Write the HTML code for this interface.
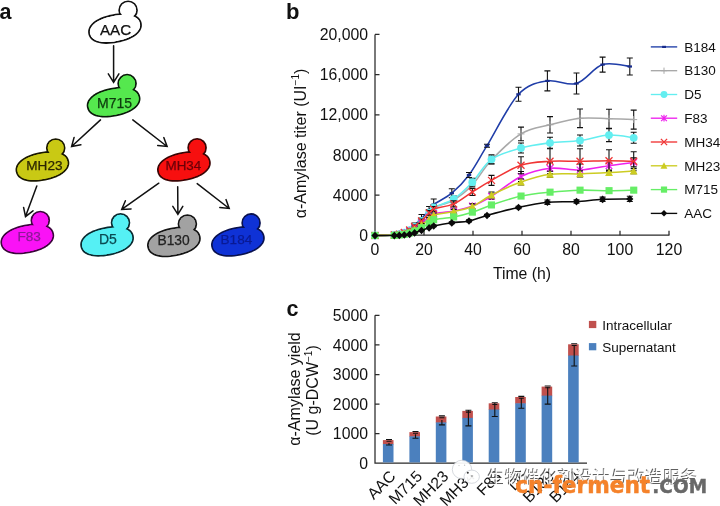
<!DOCTYPE html>
<html lang="en">
<head>
<meta charset="utf-8">
<title>Figure: yeast strain lineage and α-amylase production</title>
<style>
html,body{margin:0;padding:0;background:#fff;}
body{width:720px;height:506px;overflow:hidden;}
svg{display:block;}
svg text{font-family:"Liberation Sans", Arial, Helvetica, sans-serif;}
svg text.wm-cjk{font-family:"Liberation Sans","Noto Sans CJK SC","WenQuanYi Zen Hei",sans-serif;}
svg text.wm-logo{font-family:"DejaVu Sans","Liberation Sans",sans-serif;}
</style>
</head>
<body>
<svg width="720" height="506" viewBox="0 0 720 506">
<rect width="720" height="506" fill="#ffffff"/>
<g id="panel-a">
<text x="-0.5" y="19" font-size="21.5" font-weight="bold" fill="#111">a</text>
<g stroke="#111" stroke-width="1.8" fill="#ffffff" stroke-linejoin="round">
<circle cx="128.1" cy="10.2" r="8.9"/>
<path d="M140.8 23.3L141.0 25.0L140.9 26.5L140.5 28.0L139.9 29.5L139.0 30.9L137.9 32.3L136.5 33.7L134.9 35.0L133.1 36.2L131.1 37.3L128.9 38.4L126.4 39.3L123.8 40.2L121.0 41.0L117.7 41.7L114.4 42.3L111.5 42.7L108.7 42.9L106.1 43.0L103.6 42.9L101.3 42.6L99.2 42.2L97.2 41.7L95.4 41.0L93.8 40.1L92.4 39.2L91.3 38.1L90.4 36.8L89.7 35.4L89.2 33.7L89.0 32.0L89.1 30.5L89.5 29.0L90.1 27.5L91.0 26.1L92.1 24.7L93.5 23.3L95.1 22.0L96.9 20.8L98.9 19.7L101.1 18.6L103.6 17.7L106.2 16.8L109.0 16.0L112.3 15.3L115.6 14.7L118.5 14.3L121.3 14.1L123.9 14.0L126.4 14.1L128.7 14.4L130.8 14.8L132.8 15.3L134.6 16.0L136.2 16.9L137.6 17.8L138.7 18.9L139.6 20.2L140.3 21.6Z"/>
<circle cx="128.1" cy="10.2" r="8.0" stroke="none"/>
<path d="M139.9 23.4L140.1 25.0L140.0 26.5L139.6 27.9L139.0 29.3L138.2 30.6L137.1 31.9L135.7 33.2L134.2 34.4L132.4 35.6L130.5 36.6L128.3 37.6L126.0 38.6L123.4 39.4L120.7 40.1L117.5 40.8L114.3 41.4L111.5 41.8L108.8 42.0L106.3 42.1L103.9 42.0L101.7 41.8L99.6 41.4L97.7 40.9L96.0 40.3L94.5 39.5L93.2 38.6L92.1 37.6L91.2 36.4L90.6 35.1L90.1 33.6L89.9 32.0L90.0 30.5L90.4 29.1L91.0 27.7L91.8 26.4L92.9 25.1L94.3 23.8L95.8 22.6L97.6 21.4L99.5 20.4L101.7 19.4L104.0 18.4L106.6 17.6L109.3 16.9L112.5 16.2L115.7 15.6L118.5 15.2L121.2 15.0L123.7 14.9L126.1 15.0L128.3 15.2L130.4 15.6L132.3 16.1L134.0 16.7L135.5 17.5L136.8 18.4L137.9 19.4L138.8 20.6L139.4 21.9Z" stroke="none"/>
</g>
<text x="115.6" y="34.9" font-size="15.2" text-anchor="middle" fill="#111" stroke="#111" stroke-width="0.25">AAC</text>
<g stroke="#0a1a0a" stroke-width="1.8" fill="#55e84e" stroke-linejoin="round">
<circle cx="127.1" cy="83.6" r="8.9"/>
<path d="M139.4 96.9L139.6 98.6L139.5 100.1L139.1 101.6L138.5 103.1L137.6 104.5L136.5 105.9L135.1 107.3L133.5 108.6L131.7 109.8L129.7 110.9L127.5 112.0L125.0 112.9L122.4 113.8L119.6 114.6L116.3 115.3L113.0 115.9L110.1 116.3L107.3 116.5L104.7 116.6L102.2 116.5L99.9 116.2L97.8 115.8L95.8 115.3L94.0 114.6L92.4 113.7L91.0 112.8L89.9 111.7L89.0 110.4L88.3 109.0L87.8 107.3L87.6 105.6L87.7 104.1L88.1 102.6L88.7 101.1L89.6 99.7L90.7 98.3L92.1 96.9L93.7 95.6L95.5 94.4L97.5 93.3L99.7 92.2L102.2 91.3L104.8 90.4L107.6 89.6L110.9 88.9L114.2 88.3L117.1 87.9L119.9 87.7L122.5 87.6L125.0 87.7L127.3 88.0L129.4 88.4L131.4 88.9L133.2 89.6L134.8 90.5L136.2 91.4L137.3 92.5L138.2 93.8L138.9 95.2Z"/>
<circle cx="127.1" cy="83.6" r="8.0" stroke="none"/>
<path d="M138.5 97.0L138.7 98.6L138.6 100.1L138.2 101.5L137.6 102.9L136.8 104.2L135.7 105.5L134.3 106.8L132.8 108.0L131.0 109.2L129.1 110.2L126.9 111.2L124.6 112.2L122.0 113.0L119.3 113.7L116.1 114.4L112.9 115.0L110.1 115.4L107.4 115.6L104.9 115.7L102.5 115.6L100.3 115.4L98.2 115.0L96.3 114.5L94.6 113.9L93.1 113.1L91.8 112.2L90.7 111.2L89.8 110.0L89.2 108.7L88.7 107.2L88.5 105.6L88.6 104.1L89.0 102.7L89.6 101.3L90.4 100.0L91.5 98.7L92.9 97.4L94.4 96.2L96.2 95.0L98.1 94.0L100.3 93.0L102.6 92.0L105.2 91.2L107.9 90.5L111.1 89.8L114.3 89.2L117.1 88.8L119.8 88.6L122.3 88.5L124.7 88.6L126.9 88.8L129.0 89.2L130.9 89.7L132.6 90.3L134.1 91.1L135.4 92.0L136.5 93.0L137.4 94.2L138.0 95.5Z" stroke="none"/>
</g>
<text x="114.6" y="107.5" font-size="14" text-anchor="middle" fill="#0d3a0d" stroke="#0d3a0d" stroke-width="0.25">M715</text>
<g stroke="#1a1800" stroke-width="1.8" fill="#c9c914" stroke-linejoin="round">
<circle cx="55.7" cy="148" r="8.9"/>
<path d="M68.2 161.2L68.4 162.9L68.3 164.4L67.9 165.9L67.3 167.4L66.4 168.8L65.3 170.2L63.9 171.6L62.3 172.9L60.5 174.1L58.5 175.2L56.3 176.3L53.8 177.2L51.2 178.1L48.4 178.9L45.1 179.6L41.8 180.2L38.9 180.6L36.1 180.8L33.5 180.9L31.0 180.8L28.7 180.5L26.6 180.1L24.6 179.6L22.8 178.9L21.2 178.0L19.8 177.1L18.7 176.0L17.8 174.7L17.1 173.3L16.6 171.6L16.4 169.9L16.5 168.4L16.9 166.9L17.5 165.4L18.4 164.0L19.5 162.6L20.9 161.2L22.5 159.9L24.3 158.7L26.3 157.6L28.5 156.5L31.0 155.6L33.6 154.7L36.4 153.9L39.7 153.2L43.0 152.6L45.9 152.2L48.7 152.0L51.3 151.9L53.8 152.0L56.1 152.3L58.2 152.7L60.2 153.2L62.0 153.9L63.6 154.8L65.0 155.7L66.1 156.8L67.0 158.1L67.7 159.5Z"/>
<circle cx="55.7" cy="148" r="8.0" stroke="none"/>
<path d="M67.3 161.3L67.5 162.9L67.4 164.4L67.0 165.8L66.4 167.2L65.6 168.5L64.5 169.8L63.1 171.1L61.6 172.3L59.8 173.5L57.9 174.5L55.7 175.5L53.4 176.5L50.8 177.3L48.1 178.0L44.9 178.7L41.7 179.3L38.9 179.7L36.2 179.9L33.7 180.0L31.3 179.9L29.1 179.7L27.0 179.3L25.1 178.8L23.4 178.2L21.9 177.4L20.6 176.5L19.5 175.5L18.6 174.3L18.0 173.0L17.5 171.5L17.3 169.9L17.4 168.4L17.8 167.0L18.4 165.6L19.2 164.3L20.3 163.0L21.7 161.7L23.2 160.5L25.0 159.3L26.9 158.3L29.1 157.3L31.4 156.3L34.0 155.5L36.7 154.8L39.9 154.1L43.1 153.5L45.9 153.1L48.6 152.9L51.1 152.8L53.5 152.9L55.7 153.1L57.8 153.5L59.7 154.0L61.4 154.6L62.9 155.4L64.2 156.3L65.3 157.3L66.2 158.5L66.8 159.8Z" stroke="none"/>
</g>
<text x="44.4" y="170.0" font-size="13.6" text-anchor="middle" fill="#2b2600" stroke="#2b2600" stroke-width="0.25">MH23</text>
<g stroke="#3a0505" stroke-width="1.8" fill="#f70f0f" stroke-linejoin="round">
<circle cx="197.1" cy="147.8" r="8.9"/>
<path d="M209.7 161.2L209.9 162.9L209.8 164.4L209.4 165.9L208.8 167.4L207.9 168.8L206.8 170.2L205.4 171.6L203.8 172.9L202.0 174.1L200.0 175.2L197.8 176.3L195.3 177.2L192.7 178.1L189.9 178.9L186.6 179.6L183.3 180.2L180.4 180.6L177.6 180.8L175.0 180.9L172.5 180.8L170.2 180.5L168.1 180.1L166.1 179.6L164.3 178.9L162.7 178.0L161.3 177.1L160.2 176.0L159.3 174.7L158.6 173.3L158.1 171.6L157.9 169.9L158.0 168.4L158.4 166.9L159.0 165.4L159.9 164.0L161.0 162.6L162.4 161.2L164.0 159.9L165.8 158.7L167.8 157.6L170.0 156.5L172.5 155.6L175.1 154.7L177.9 153.9L181.2 153.2L184.5 152.6L187.4 152.2L190.2 152.0L192.8 151.9L195.3 152.0L197.6 152.3L199.7 152.7L201.7 153.2L203.5 153.9L205.1 154.8L206.5 155.7L207.6 156.8L208.5 158.1L209.2 159.5Z"/>
<circle cx="197.1" cy="147.8" r="8.0" stroke="none"/>
<path d="M208.8 161.3L209.0 162.9L208.9 164.4L208.5 165.8L207.9 167.2L207.1 168.5L206.0 169.8L204.6 171.1L203.1 172.3L201.3 173.5L199.4 174.5L197.2 175.5L194.9 176.5L192.3 177.3L189.6 178.0L186.4 178.7L183.2 179.3L180.4 179.7L177.7 179.9L175.2 180.0L172.8 179.9L170.6 179.7L168.5 179.3L166.6 178.8L164.9 178.2L163.4 177.4L162.1 176.5L161.0 175.5L160.1 174.3L159.5 173.0L159.0 171.5L158.8 169.9L158.9 168.4L159.3 167.0L159.9 165.6L160.7 164.3L161.8 163.0L163.2 161.7L164.7 160.5L166.5 159.3L168.4 158.3L170.6 157.3L172.9 156.3L175.5 155.5L178.2 154.8L181.4 154.1L184.6 153.5L187.4 153.1L190.1 152.9L192.6 152.8L195.0 152.9L197.2 153.1L199.3 153.5L201.2 154.0L202.9 154.6L204.4 155.4L205.7 156.3L206.8 157.3L207.7 158.5L208.3 159.8Z" stroke="none"/>
</g>
<text x="183.4" y="169.9" font-size="13.4" text-anchor="middle" fill="#6a0008" stroke="#6a0008" stroke-width="0.25">MH34</text>
<g stroke="#3c063c" stroke-width="1.8" fill="#fa12f6" stroke-linejoin="round">
<circle cx="40.3" cy="220.5" r="8.9"/>
<path d="M53.1 233.7L53.3 235.4L53.2 236.9L52.8 238.4L52.2 239.9L51.3 241.3L50.2 242.7L48.8 244.1L47.2 245.4L45.4 246.6L43.4 247.7L41.2 248.8L38.7 249.7L36.1 250.6L33.3 251.4L30.0 252.1L26.7 252.7L23.8 253.1L21.0 253.3L18.4 253.4L15.9 253.3L13.6 253.0L11.5 252.6L9.5 252.1L7.7 251.4L6.1 250.5L4.7 249.6L3.6 248.5L2.7 247.2L2.0 245.8L1.5 244.1L1.3 242.4L1.4 240.9L1.8 239.4L2.4 237.9L3.3 236.5L4.4 235.1L5.8 233.7L7.4 232.4L9.2 231.2L11.2 230.1L13.4 229.0L15.9 228.1L18.5 227.2L21.3 226.4L24.6 225.7L27.9 225.1L30.8 224.7L33.6 224.5L36.2 224.4L38.7 224.5L41.0 224.8L43.1 225.2L45.1 225.7L46.9 226.4L48.5 227.3L49.9 228.2L51.0 229.3L51.9 230.6L52.6 232.0Z"/>
<circle cx="40.3" cy="220.5" r="8.0" stroke="none"/>
<path d="M52.2 233.8L52.4 235.4L52.3 236.9L51.9 238.3L51.3 239.7L50.5 241.0L49.4 242.3L48.0 243.6L46.5 244.8L44.7 246.0L42.8 247.0L40.6 248.0L38.3 249.0L35.7 249.8L33.0 250.5L29.8 251.2L26.6 251.8L23.8 252.2L21.1 252.4L18.6 252.5L16.2 252.4L14.0 252.2L11.9 251.8L10.0 251.3L8.3 250.7L6.8 249.9L5.5 249.0L4.4 248.0L3.5 246.8L2.9 245.5L2.4 244.0L2.2 242.4L2.3 240.9L2.7 239.5L3.3 238.1L4.1 236.8L5.2 235.5L6.6 234.2L8.1 233.0L9.9 231.8L11.8 230.8L14.0 229.8L16.3 228.8L18.9 228.0L21.6 227.3L24.8 226.6L28.0 226.0L30.8 225.6L33.5 225.4L36.0 225.3L38.4 225.4L40.6 225.6L42.7 226.0L44.6 226.5L46.3 227.1L47.8 227.9L49.1 228.8L50.2 229.8L51.1 231.0L51.7 232.3Z" stroke="none"/>
</g>
<text x="29.2" y="241.1" font-size="13.6" text-anchor="middle" fill="#8a1a96" stroke="#8a1a96" stroke-width="0.25">F83</text>
<g stroke="#0a2a30" stroke-width="1.8" fill="#55f0f4" stroke-linejoin="round">
<circle cx="120.5" cy="222.8" r="8.9"/>
<path d="M132.9 236.1L133.1 237.8L133.0 239.3L132.6 240.8L132.0 242.3L131.1 243.7L130.0 245.1L128.6 246.5L127.0 247.8L125.2 249.0L123.2 250.1L121.0 251.2L118.5 252.1L115.9 253.0L113.1 253.8L109.8 254.5L106.5 255.1L103.6 255.5L100.8 255.7L98.2 255.8L95.7 255.7L93.4 255.4L91.3 255.0L89.3 254.5L87.5 253.8L85.9 252.9L84.5 252.0L83.4 250.9L82.5 249.6L81.8 248.2L81.3 246.5L81.1 244.8L81.2 243.3L81.6 241.8L82.2 240.3L83.1 238.9L84.2 237.5L85.6 236.1L87.2 234.8L89.0 233.6L91.0 232.5L93.2 231.4L95.7 230.5L98.3 229.6L101.1 228.8L104.4 228.1L107.7 227.5L110.6 227.1L113.4 226.9L116.0 226.8L118.5 226.9L120.8 227.2L122.9 227.6L124.9 228.1L126.7 228.8L128.3 229.7L129.7 230.6L130.8 231.7L131.7 233.0L132.4 234.4Z"/>
<circle cx="120.5" cy="222.8" r="8.0" stroke="none"/>
<path d="M132.0 236.2L132.2 237.8L132.1 239.3L131.7 240.7L131.1 242.1L130.3 243.4L129.2 244.7L127.8 246.0L126.3 247.2L124.5 248.4L122.6 249.4L120.4 250.4L118.1 251.4L115.5 252.2L112.8 252.9L109.6 253.6L106.4 254.2L103.6 254.6L100.9 254.8L98.4 254.9L96.0 254.8L93.8 254.6L91.7 254.2L89.8 253.7L88.1 253.1L86.6 252.3L85.3 251.4L84.2 250.4L83.3 249.2L82.7 247.9L82.2 246.4L82.0 244.8L82.1 243.3L82.5 241.9L83.1 240.5L83.9 239.2L85.0 237.9L86.4 236.6L87.9 235.4L89.7 234.2L91.6 233.2L93.8 232.2L96.1 231.2L98.7 230.4L101.4 229.7L104.6 229.0L107.8 228.4L110.6 228.0L113.3 227.8L115.8 227.7L118.2 227.8L120.4 228.0L122.5 228.4L124.4 228.9L126.1 229.5L127.6 230.3L128.9 231.2L130.0 232.2L130.9 233.4L131.5 234.7Z" stroke="none"/>
</g>
<text x="107.9" y="243.6" font-size="14" text-anchor="middle" fill="#0a4a52" stroke="#0a4a52" stroke-width="0.25">D5</text>
<g stroke="#141414" stroke-width="1.8" fill="#a2a2a2" stroke-linejoin="round">
<circle cx="187.4" cy="224" r="8.9"/>
<path d="M199.7 236.7L199.9 238.4L199.8 239.9L199.4 241.4L198.8 242.9L197.9 244.3L196.8 245.7L195.4 247.1L193.8 248.4L192.0 249.6L190.0 250.7L187.8 251.8L185.3 252.7L182.7 253.6L179.9 254.4L176.6 255.1L173.3 255.7L170.4 256.1L167.6 256.3L165.0 256.4L162.5 256.3L160.2 256.0L158.1 255.6L156.1 255.1L154.3 254.4L152.7 253.5L151.3 252.6L150.2 251.5L149.3 250.2L148.6 248.8L148.1 247.1L147.9 245.4L148.0 243.9L148.4 242.4L149.0 240.9L149.9 239.5L151.0 238.1L152.4 236.7L154.0 235.4L155.8 234.2L157.8 233.1L160.0 232.0L162.5 231.1L165.1 230.2L167.9 229.4L171.2 228.7L174.5 228.1L177.4 227.7L180.2 227.5L182.8 227.4L185.3 227.5L187.6 227.8L189.7 228.2L191.7 228.7L193.5 229.4L195.1 230.3L196.5 231.2L197.6 232.3L198.5 233.6L199.2 235.0Z"/>
<circle cx="187.4" cy="224" r="8.0" stroke="none"/>
<path d="M198.8 236.8L199.0 238.4L198.9 239.9L198.5 241.3L197.9 242.7L197.1 244.0L196.0 245.3L194.6 246.6L193.1 247.8L191.3 249.0L189.4 250.0L187.2 251.0L184.9 252.0L182.3 252.8L179.6 253.5L176.4 254.2L173.2 254.8L170.4 255.2L167.7 255.4L165.2 255.5L162.8 255.4L160.6 255.2L158.5 254.8L156.6 254.3L154.9 253.7L153.4 252.9L152.1 252.0L151.0 251.0L150.1 249.8L149.5 248.5L149.0 247.0L148.8 245.4L148.9 243.9L149.3 242.5L149.9 241.1L150.7 239.8L151.8 238.5L153.2 237.2L154.7 236.0L156.5 234.8L158.4 233.8L160.6 232.8L162.9 231.8L165.5 231.0L168.2 230.3L171.4 229.6L174.6 229.0L177.4 228.6L180.1 228.4L182.6 228.3L185.0 228.4L187.2 228.6L189.3 229.0L191.2 229.5L192.9 230.1L194.4 230.9L195.7 231.8L196.8 232.8L197.7 234.0L198.3 235.3Z" stroke="none"/>
</g>
<text x="173.6" y="245.0" font-size="13.8" text-anchor="middle" fill="#222" stroke="#222" stroke-width="0.25">B130</text>
<g stroke="#0a1250" stroke-width="1.8" fill="#0f32d6" stroke-linejoin="round">
<circle cx="251.1" cy="222.9" r="8.9"/>
<path d="M263.7 236.2L263.9 237.9L263.8 239.4L263.4 240.9L262.8 242.4L261.9 243.8L260.8 245.2L259.4 246.6L257.8 247.9L256.0 249.1L254.0 250.2L251.8 251.3L249.3 252.2L246.7 253.1L243.9 253.9L240.6 254.6L237.3 255.2L234.4 255.6L231.6 255.8L229.0 255.9L226.5 255.8L224.2 255.5L222.1 255.1L220.1 254.6L218.3 253.9L216.7 253.0L215.3 252.1L214.2 251.0L213.3 249.7L212.6 248.3L212.1 246.6L211.9 244.9L212.0 243.4L212.4 241.9L213.0 240.4L213.9 239.0L215.0 237.6L216.4 236.2L218.0 234.9L219.8 233.7L221.8 232.6L224.0 231.5L226.5 230.6L229.1 229.7L231.9 228.9L235.2 228.2L238.5 227.6L241.4 227.2L244.2 227.0L246.8 226.9L249.3 227.0L251.6 227.3L253.7 227.7L255.7 228.2L257.5 228.9L259.1 229.8L260.5 230.7L261.6 231.8L262.5 233.1L263.2 234.5Z"/>
<circle cx="251.1" cy="222.9" r="8.0" stroke="none"/>
<path d="M262.8 236.3L263.0 237.9L262.9 239.4L262.5 240.8L261.9 242.2L261.1 243.5L260.0 244.8L258.6 246.1L257.1 247.3L255.3 248.5L253.4 249.5L251.2 250.5L248.9 251.5L246.3 252.3L243.6 253.0L240.4 253.7L237.2 254.3L234.4 254.7L231.7 254.9L229.2 255.0L226.8 254.9L224.6 254.7L222.5 254.3L220.6 253.8L218.9 253.2L217.4 252.4L216.1 251.5L215.0 250.5L214.1 249.3L213.5 248.0L213.0 246.5L212.8 244.9L212.9 243.4L213.3 242.0L213.9 240.6L214.7 239.3L215.8 238.0L217.2 236.7L218.7 235.5L220.5 234.3L222.4 233.3L224.6 232.3L226.9 231.3L229.5 230.5L232.2 229.8L235.4 229.1L238.6 228.5L241.4 228.1L244.1 227.9L246.6 227.8L249.0 227.9L251.2 228.1L253.3 228.5L255.2 229.0L256.9 229.6L258.4 230.4L259.7 231.3L260.8 232.3L261.7 233.5L262.3 234.8Z" stroke="none"/>
</g>
<text x="236.4" y="244.1" font-size="13.6" text-anchor="middle" fill="#0a1a94" stroke="#0a1a94" stroke-width="0.25">B184</text>
<path d="M113.6 45.7L113.6 82.3M108.3 73.9L113.6 82.3L118.9 73.9" fill="none" stroke="#111" stroke-width="1.5" stroke-linecap="round" stroke-linejoin="miter"/>
<path d="M100.5 119.9L71.6 146.5M74.1 137.4L71.6 146.5L80.9 144.8" fill="none" stroke="#111" stroke-width="1.5" stroke-linecap="round" stroke-linejoin="miter"/>
<path d="M132.8 119.9L167.1 146.5M157.7 145.5L167.1 146.5L163.8 137.6" fill="none" stroke="#111" stroke-width="1.5" stroke-linecap="round" stroke-linejoin="miter"/>
<path d="M36.8 185.9L25.5 216.6M23.6 207.4L25.5 216.6L33.0 210.8" fill="none" stroke="#111" stroke-width="1.5" stroke-linecap="round" stroke-linejoin="miter"/>
<path d="M158.8 183.2L121.7 209.4M125.4 200.7L121.7 209.4L131.1 208.9" fill="none" stroke="#111" stroke-width="1.5" stroke-linecap="round" stroke-linejoin="miter"/>
<path d="M177.7 186.8L177.9 214.3M172.8 206.3L177.9 214.3L182.8 206.3" fill="none" stroke="#111" stroke-width="1.5" stroke-linecap="round" stroke-linejoin="miter"/>
<path d="M197.2 183.6L229.2 208.5M219.8 207.5L229.2 208.5L226.0 199.6" fill="none" stroke="#111" stroke-width="1.5" stroke-linecap="round" stroke-linejoin="miter"/>
</g>
<g id="panel-b">
<text x="286" y="18.6" font-size="22" font-weight="bold" fill="#111">b</text>
<path d="M375.0 34.4V235.2H669.4" fill="none" stroke="#2a2a2a" stroke-width="1.25"/>
<text x="368" y="240.8" font-size="15.8" text-anchor="end" fill="#111">0</text>
<text x="368" y="200.6" font-size="15.8" text-anchor="end" fill="#111">4000</text>
<text x="368" y="160.5" font-size="15.8" text-anchor="end" fill="#111">8000</text>
<text x="368" y="120.3" font-size="15.8" text-anchor="end" fill="#111">12,000</text>
<text x="368" y="80.2" font-size="15.8" text-anchor="end" fill="#111">16,000</text>
<text x="368" y="40.0" font-size="15.8" text-anchor="end" fill="#111">20,000</text>
<text x="375.0" y="255" font-size="15.8" text-anchor="middle" fill="#111">0</text>
<text x="424.0" y="255" font-size="15.8" text-anchor="middle" fill="#111">20</text>
<text x="473.0" y="255" font-size="15.8" text-anchor="middle" fill="#111">40</text>
<text x="522.0" y="255" font-size="15.8" text-anchor="middle" fill="#111">60</text>
<text x="571.0" y="255" font-size="15.8" text-anchor="middle" fill="#111">80</text>
<text x="620.0" y="255" font-size="15.8" text-anchor="middle" fill="#111">100</text>
<text x="669.0" y="255" font-size="15.8" text-anchor="middle" fill="#111">120</text>
<path d="M375.0 195.0h4.5M375.0 154.9h4.5M375.0 114.8h4.5M375.0 74.6h4.5M375.0 34.4h4.5M424.0 235.2v-4.5M473.0 235.2v-4.5M522.0 235.2v-4.5M571.0 235.2v-4.5M620.0 235.2v-4.5M669.0 235.2v-4.5" stroke="#2a2a2a" stroke-width="1.25" fill="none"/>
<text x="522" y="279.2" font-size="15.8" text-anchor="middle" fill="#111">Time (h)</text>
<text transform="translate(305.5 143.5) rotate(-90)" font-size="16" text-anchor="middle" fill="#111">α-Amylase titer (UI<tspan font-size="10" dy="-6.5">−1</tspan><tspan dy="6.5">)</tspan></text>
<g id="s-B184">
<path d="M375.0 235.5 C378.2 235.4 390.2 235.2 394.3 235.0 C398.4 234.8 397.6 234.5 399.3 234.0 C401.0 233.5 402.6 232.8 404.3 232.0 C406.0 231.2 407.9 230.2 409.6 229.0 C411.3 227.8 412.6 226.8 414.6 225.0 C416.6 223.2 419.1 221.0 421.5 218.5 C423.9 216.0 427.1 212.3 429.1 210.0 C431.1 207.7 429.9 207.3 433.7 204.5 C437.5 201.7 445.9 198.1 451.8 193.2 C457.7 188.3 463.1 182.9 469.0 175.0 C474.9 167.1 478.8 159.1 487.0 145.7 C495.2 132.2 508.4 105.1 518.5 94.3 C528.6 83.5 537.7 82.7 547.4 80.9 C557.1 79.1 567.3 86.2 576.5 83.5 C585.7 80.8 593.7 67.4 602.6 64.6 C611.5 61.8 625.3 66.2 629.8 66.5" fill="none" stroke="#1f3da8" stroke-width="1.55" stroke-linejoin="round"/>
<path d="M399.3 233.2V234.8M396.3 233.2h6M396.3 234.8h6M404.3 231.0V233.0M401.3 231.0h6M401.3 233.0h6M409.6 227.5V230.5M406.6 227.5h6M406.6 230.5h6M414.6 223.0V227.0M411.6 223.0h6M411.6 227.0h6M421.5 214.5V222.5M418.5 214.5h6M418.5 222.5h6M429.1 206.5V213.5M426.1 206.5h6M426.1 213.5h6M433.7 199.0V210.0M430.7 199.0h6M430.7 210.0h6M451.8 188.7V197.7M448.8 188.7h6M448.8 197.7h6M469.0 172.5V177.5M466.0 172.5h6M466.0 177.5h6M487.0 144.2V147.2M484.0 144.2h6M484.0 147.2h6M518.5 87.3V101.3M515.5 87.3h6M515.5 101.3h6M547.4 70.9V90.9M544.4 70.9h6M544.4 90.9h6M576.5 73.0V94.0M573.5 73.0h6M573.5 94.0h6M602.6 57.1V72.1M599.6 57.1h6M599.6 72.1h6M629.8 58.0V75.0M626.8 58.0h6M626.8 75.0h6" stroke="#111" stroke-width="1.1" fill="none"/>
<rect x="372.8" y="234.4" width="4.4" height="2.2" fill="#182c8c"/>
<rect x="392.1" y="233.9" width="4.4" height="2.2" fill="#182c8c"/>
<rect x="397.1" y="232.9" width="4.4" height="2.2" fill="#182c8c"/>
<rect x="402.1" y="230.9" width="4.4" height="2.2" fill="#182c8c"/>
<rect x="407.4" y="227.9" width="4.4" height="2.2" fill="#182c8c"/>
<rect x="412.4" y="223.9" width="4.4" height="2.2" fill="#182c8c"/>
<rect x="419.3" y="217.4" width="4.4" height="2.2" fill="#182c8c"/>
<rect x="426.9" y="208.9" width="4.4" height="2.2" fill="#182c8c"/>
<rect x="431.5" y="203.4" width="4.4" height="2.2" fill="#182c8c"/>
<rect x="449.6" y="192.1" width="4.4" height="2.2" fill="#182c8c"/>
<rect x="466.8" y="173.9" width="4.4" height="2.2" fill="#182c8c"/>
<rect x="484.8" y="144.6" width="4.4" height="2.2" fill="#182c8c"/>
<rect x="516.3" y="93.2" width="4.4" height="2.2" fill="#182c8c"/>
<rect x="545.2" y="79.8" width="4.4" height="2.2" fill="#182c8c"/>
<rect x="574.3" y="82.4" width="4.4" height="2.2" fill="#182c8c"/>
<rect x="600.4" y="63.5" width="4.4" height="2.2" fill="#182c8c"/>
<rect x="627.6" y="65.4" width="4.4" height="2.2" fill="#182c8c"/>
</g>
<g id="s-B130">
<path d="M375.0 235.5 C378.2 235.4 390.2 235.2 394.3 235.0 C398.4 234.8 397.6 234.6 399.3 234.2 C401.0 233.8 402.6 233.2 404.3 232.5 C406.0 231.8 407.9 231.0 409.6 230.0 C411.3 229.0 412.6 228.1 414.6 226.5 C416.6 224.9 419.1 222.8 421.5 220.5 C423.9 218.2 427.1 214.7 429.1 212.5 C431.1 210.3 429.6 209.6 433.7 207.5 C437.8 205.4 447.3 203.8 453.7 200.0 C460.1 196.2 466.0 191.7 472.3 185.0 C478.6 178.3 483.4 168.5 491.5 160.0 C499.6 151.5 511.2 139.8 521.0 133.9 C530.8 128.0 540.2 127.4 550.0 124.8 C559.8 122.2 570.2 119.3 580.0 118.3 C589.8 117.3 600.0 118.5 609.0 118.7 C618.0 118.9 629.6 119.4 633.7 119.6" fill="none" stroke="#a9a9a9" stroke-width="1.55" stroke-linejoin="round"/>
<path d="M399.3 233.4V235.0M396.3 233.4h6M396.3 235.0h6M404.3 231.5V233.5M401.3 231.5h6M401.3 233.5h6M409.6 228.5V231.5M406.6 228.5h6M406.6 231.5h6M414.6 224.5V228.5M411.6 224.5h6M411.6 228.5h6M421.5 218.0V223.0M418.5 218.0h6M418.5 223.0h6M429.1 209.5V215.5M426.1 209.5h6M426.1 215.5h6M433.7 204.5V210.5M430.7 204.5h6M430.7 210.5h6M453.7 197.0V203.0M450.7 197.0h6M450.7 203.0h6M472.3 182.0V188.0M469.3 182.0h6M469.3 188.0h6M491.5 156.0V164.0M488.5 156.0h6M488.5 164.0h6M521.0 127.1V140.7M518.0 127.1h6M518.0 140.7h6M550.0 116.6V133.0M547.0 116.6h6M547.0 133.0h6M580.0 109.0V127.6M577.0 109.0h6M577.0 127.6h6M609.0 109.2V128.2M606.0 109.2h6M606.0 128.2h6M633.7 110.1V129.1M630.7 110.1h6M630.7 129.1h6" stroke="#111" stroke-width="1.1" fill="none"/>
<path d="M371.5 235.5h7.0M375.0 232.0v7.0" stroke="#a9a9a9" stroke-width="1" fill="none"/>
<path d="M390.8 235.0h7.0M394.3 231.5v7.0" stroke="#a9a9a9" stroke-width="1" fill="none"/>
<path d="M395.8 234.2h7.0M399.3 230.7v7.0" stroke="#a9a9a9" stroke-width="1" fill="none"/>
<path d="M400.8 232.5h7.0M404.3 229.0v7.0" stroke="#a9a9a9" stroke-width="1" fill="none"/>
<path d="M406.1 230.0h7.0M409.6 226.5v7.0" stroke="#a9a9a9" stroke-width="1" fill="none"/>
<path d="M411.1 226.5h7.0M414.6 223.0v7.0" stroke="#a9a9a9" stroke-width="1" fill="none"/>
<path d="M418.0 220.5h7.0M421.5 217.0v7.0" stroke="#a9a9a9" stroke-width="1" fill="none"/>
<path d="M425.6 212.5h7.0M429.1 209.0v7.0" stroke="#a9a9a9" stroke-width="1" fill="none"/>
<path d="M430.2 207.5h7.0M433.7 204.0v7.0" stroke="#a9a9a9" stroke-width="1" fill="none"/>
<path d="M450.2 200.0h7.0M453.7 196.5v7.0" stroke="#a9a9a9" stroke-width="1" fill="none"/>
<path d="M468.8 185.0h7.0M472.3 181.5v7.0" stroke="#a9a9a9" stroke-width="1" fill="none"/>
<path d="M488.0 160.0h7.0M491.5 156.5v7.0" stroke="#a9a9a9" stroke-width="1" fill="none"/>
<path d="M517.5 133.9h7.0M521.0 130.4v7.0" stroke="#a9a9a9" stroke-width="1" fill="none"/>
<path d="M546.5 124.8h7.0M550.0 121.3v7.0" stroke="#a9a9a9" stroke-width="1" fill="none"/>
<path d="M576.5 118.3h7.0M580.0 114.8v7.0" stroke="#a9a9a9" stroke-width="1" fill="none"/>
<path d="M605.5 118.7h7.0M609.0 115.2v7.0" stroke="#a9a9a9" stroke-width="1" fill="none"/>
<path d="M630.2 119.6h7.0M633.7 116.1v7.0" stroke="#a9a9a9" stroke-width="1" fill="none"/>
</g>
<g id="s-D5">
<path d="M375.0 235.5 C378.2 235.4 390.2 235.2 394.3 235.0 C398.4 234.8 397.6 234.6 399.3 234.2 C401.0 233.8 402.6 233.3 404.3 232.6 C406.0 231.9 407.9 231.2 409.6 230.2 C411.3 229.2 412.6 228.3 414.6 226.8 C416.6 225.3 419.1 223.3 421.5 221.0 C423.9 218.7 427.1 215.2 429.1 213.0 C431.1 210.8 429.6 209.8 433.7 207.5 C437.8 205.2 447.3 203.2 453.7 199.0 C460.1 194.8 466.0 188.8 472.3 182.2 C478.6 175.6 483.4 165.0 491.5 159.3 C499.6 153.6 511.2 150.8 521.0 148.0 C530.8 145.2 540.2 144.1 550.0 142.8 C559.8 141.6 570.2 141.8 580.0 140.5 C589.8 139.2 600.0 135.5 609.0 135.1 C618.0 134.7 629.6 137.4 633.7 137.8" fill="none" stroke="#63eef0" stroke-width="1.55" stroke-linejoin="round"/>
<path d="M399.3 233.4V235.0M396.3 233.4h6M396.3 235.0h6M404.3 231.6V233.6M401.3 231.6h6M401.3 233.6h6M409.6 228.7V231.7M406.6 228.7h6M406.6 231.7h6M414.6 224.8V228.8M411.6 224.8h6M411.6 228.8h6M421.5 219.0V223.0M418.5 219.0h6M418.5 223.0h6M429.1 210.5V215.5M426.1 210.5h6M426.1 215.5h6M433.7 205.0V210.0M430.7 205.0h6M430.7 210.0h6M453.7 196.0V202.0M450.7 196.0h6M450.7 202.0h6M472.3 178.2V186.2M469.3 178.2h6M469.3 186.2h6M491.5 154.8V163.8M488.5 154.8h6M488.5 163.8h6M521.0 143.0V153.0M518.0 143.0h6M518.0 153.0h6M550.0 137.3V148.3M547.0 137.3h6M547.0 148.3h6M580.0 135.0V146.0M577.0 135.0h6M577.0 146.0h6M609.0 128.6V141.6M606.0 128.6h6M606.0 141.6h6M633.7 132.3V143.3M630.7 132.3h6M630.7 143.3h6" stroke="#111" stroke-width="1.1" fill="none"/>
<circle cx="375.0" cy="235.5" r="3.90" fill="#63eef0"/>
<circle cx="394.3" cy="235.0" r="3.90" fill="#63eef0"/>
<circle cx="399.3" cy="234.2" r="3.90" fill="#63eef0"/>
<circle cx="404.3" cy="232.6" r="3.90" fill="#63eef0"/>
<circle cx="409.6" cy="230.2" r="3.90" fill="#63eef0"/>
<circle cx="414.6" cy="226.8" r="3.90" fill="#63eef0"/>
<circle cx="421.5" cy="221.0" r="3.90" fill="#63eef0"/>
<circle cx="429.1" cy="213.0" r="3.90" fill="#63eef0"/>
<circle cx="433.7" cy="207.5" r="3.90" fill="#63eef0"/>
<circle cx="453.7" cy="199.0" r="3.90" fill="#63eef0"/>
<circle cx="472.3" cy="182.2" r="3.90" fill="#63eef0"/>
<circle cx="491.5" cy="159.3" r="3.90" fill="#63eef0"/>
<circle cx="521.0" cy="148.0" r="3.90" fill="#63eef0"/>
<circle cx="550.0" cy="142.8" r="3.90" fill="#63eef0"/>
<circle cx="580.0" cy="140.5" r="3.90" fill="#63eef0"/>
<circle cx="609.0" cy="135.1" r="3.90" fill="#63eef0"/>
<circle cx="633.7" cy="137.8" r="3.90" fill="#63eef0"/>
</g>
<g id="s-F83">
<path d="M375.0 235.5 C378.2 235.4 390.2 235.2 394.3 235.0 C398.4 234.8 397.6 234.6 399.3 234.3 C401.0 234.0 402.6 233.6 404.3 233.0 C406.0 232.4 407.9 231.8 409.6 231.0 C411.3 230.2 412.6 229.3 414.6 228.0 C416.6 226.7 419.1 224.8 421.5 223.0 C423.9 221.2 427.1 218.6 429.1 217.0 C431.1 215.4 429.6 214.7 433.7 213.7 C437.8 212.7 447.3 212.2 453.7 210.9 C460.1 209.6 466.0 208.4 472.3 206.0 C478.6 203.6 483.4 201.2 491.5 196.3 C499.6 191.4 511.2 181.2 521.0 176.5 C530.8 171.8 540.2 169.4 550.0 168.3 C559.8 167.2 570.2 170.4 580.0 170.0 C589.8 169.6 600.0 167.0 609.0 165.7 C618.0 164.4 629.6 162.9 633.7 162.4" fill="none" stroke="#ee22ee" stroke-width="1.55" stroke-linejoin="round"/>
<path d="M404.3 232.2V233.8M401.3 232.2h6M401.3 233.8h6M409.6 230.0V232.0M406.6 230.0h6M406.6 232.0h6M414.6 226.5V229.5M411.6 226.5h6M411.6 229.5h6M421.5 221.0V225.0M418.5 221.0h6M418.5 225.0h6M429.1 215.0V219.0M426.1 215.0h6M426.1 219.0h6M433.7 211.7V215.7M430.7 211.7h6M430.7 215.7h6M453.7 208.9V212.9M450.7 208.9h6M450.7 212.9h6M472.3 203.5V208.5M469.3 203.5h6M469.3 208.5h6M491.5 193.3V199.3M488.5 193.3h6M488.5 199.3h6M521.0 171.5V181.5M518.0 171.5h6M518.0 181.5h6M550.0 162.3V174.3M547.0 162.3h6M547.0 174.3h6M580.0 164.0V176.0M577.0 164.0h6M577.0 176.0h6M609.0 160.7V170.7M606.0 160.7h6M606.0 170.7h6M633.7 157.9V166.9M630.7 157.9h6M630.7 166.9h6" stroke="#111" stroke-width="1.1" fill="none"/>
<path d="M371.7 232.2l6.6 6.6M371.7 238.8l6.6 -6.6M375.0 231.7v7.6" stroke="#ee22ee" stroke-width="1.2" fill="none"/>
<path d="M391.0 231.7l6.6 6.6M391.0 238.3l6.6 -6.6M394.3 231.2v7.6" stroke="#ee22ee" stroke-width="1.2" fill="none"/>
<path d="M396.0 231.0l6.6 6.6M396.0 237.6l6.6 -6.6M399.3 230.5v7.6" stroke="#ee22ee" stroke-width="1.2" fill="none"/>
<path d="M401.0 229.7l6.6 6.6M401.0 236.3l6.6 -6.6M404.3 229.2v7.6" stroke="#ee22ee" stroke-width="1.2" fill="none"/>
<path d="M406.3 227.7l6.6 6.6M406.3 234.3l6.6 -6.6M409.6 227.2v7.6" stroke="#ee22ee" stroke-width="1.2" fill="none"/>
<path d="M411.3 224.7l6.6 6.6M411.3 231.3l6.6 -6.6M414.6 224.2v7.6" stroke="#ee22ee" stroke-width="1.2" fill="none"/>
<path d="M418.2 219.7l6.6 6.6M418.2 226.3l6.6 -6.6M421.5 219.2v7.6" stroke="#ee22ee" stroke-width="1.2" fill="none"/>
<path d="M425.8 213.7l6.6 6.6M425.8 220.3l6.6 -6.6M429.1 213.2v7.6" stroke="#ee22ee" stroke-width="1.2" fill="none"/>
<path d="M430.4 210.4l6.6 6.6M430.4 217.0l6.6 -6.6M433.7 209.9v7.6" stroke="#ee22ee" stroke-width="1.2" fill="none"/>
<path d="M450.4 207.6l6.6 6.6M450.4 214.2l6.6 -6.6M453.7 207.1v7.6" stroke="#ee22ee" stroke-width="1.2" fill="none"/>
<path d="M469.0 202.7l6.6 6.6M469.0 209.3l6.6 -6.6M472.3 202.2v7.6" stroke="#ee22ee" stroke-width="1.2" fill="none"/>
<path d="M488.2 193.0l6.6 6.6M488.2 199.6l6.6 -6.6M491.5 192.5v7.6" stroke="#ee22ee" stroke-width="1.2" fill="none"/>
<path d="M517.7 173.2l6.6 6.6M517.7 179.8l6.6 -6.6M521.0 172.7v7.6" stroke="#ee22ee" stroke-width="1.2" fill="none"/>
<path d="M546.7 165.0l6.6 6.6M546.7 171.6l6.6 -6.6M550.0 164.5v7.6" stroke="#ee22ee" stroke-width="1.2" fill="none"/>
<path d="M576.7 166.7l6.6 6.6M576.7 173.3l6.6 -6.6M580.0 166.2v7.6" stroke="#ee22ee" stroke-width="1.2" fill="none"/>
<path d="M605.7 162.4l6.6 6.6M605.7 169.0l6.6 -6.6M609.0 161.9v7.6" stroke="#ee22ee" stroke-width="1.2" fill="none"/>
<path d="M630.4 159.1l6.6 6.6M630.4 165.7l6.6 -6.6M633.7 158.6v7.6" stroke="#ee22ee" stroke-width="1.2" fill="none"/>
</g>
<g id="s-MH34">
<path d="M375.0 235.5 C378.2 235.4 390.2 235.2 394.3 235.0 C398.4 234.8 397.6 234.6 399.3 234.2 C401.0 233.8 402.6 233.2 404.3 232.5 C406.0 231.8 407.9 231.0 409.6 230.0 C411.3 229.0 412.6 228.0 414.6 226.5 C416.6 225.0 419.1 223.2 421.5 221.0 C423.9 218.8 427.1 215.0 429.1 213.0 C431.1 211.0 429.6 210.5 433.7 209.0 C437.8 207.5 447.3 206.7 453.7 203.9 C460.1 201.1 466.0 195.9 472.3 192.0 C478.6 188.1 483.4 184.9 491.5 180.4 C499.6 175.9 511.2 168.4 521.0 165.2 C530.8 162.0 540.2 162.0 550.0 161.3 C559.8 160.7 570.2 161.4 580.0 161.3 C589.8 161.2 600.0 160.7 609.0 160.7 C618.0 160.7 629.6 161.2 633.7 161.3" fill="none" stroke="#f03535" stroke-width="1.55" stroke-linejoin="round"/>
<path d="M404.3 231.7V233.3M401.3 231.7h6M401.3 233.3h6M409.6 229.0V231.0M406.6 229.0h6M406.6 231.0h6M414.6 225.0V228.0M411.6 225.0h6M411.6 228.0h6M421.5 219.0V223.0M418.5 219.0h6M418.5 223.0h6M429.1 210.5V215.5M426.1 210.5h6M426.1 215.5h6M433.7 206.5V211.5M430.7 206.5h6M430.7 211.5h6M453.7 200.9V206.9M450.7 200.9h6M450.7 206.9h6M472.3 188.5V195.5M469.3 188.5h6M469.3 195.5h6M491.5 175.4V185.4M488.5 175.4h6M488.5 185.4h6M521.0 156.7V173.7M518.0 156.7h6M518.0 173.7h6M550.0 148.8V173.8M547.0 148.8h6M547.0 173.8h6M580.0 148.8V173.8M577.0 148.8h6M577.0 173.8h6M609.0 149.7V171.7M606.0 149.7h6M606.0 171.7h6M633.7 151.8V170.8M630.7 151.8h6M630.7 170.8h6" stroke="#111" stroke-width="1.1" fill="none"/>
<path d="M371.5 232.0l7.0 7.0M371.5 239.0l7.0 -7.0" stroke="#f03535" stroke-width="1.3" fill="none"/>
<path d="M390.8 231.5l7.0 7.0M390.8 238.5l7.0 -7.0" stroke="#f03535" stroke-width="1.3" fill="none"/>
<path d="M395.8 230.7l7.0 7.0M395.8 237.7l7.0 -7.0" stroke="#f03535" stroke-width="1.3" fill="none"/>
<path d="M400.8 229.0l7.0 7.0M400.8 236.0l7.0 -7.0" stroke="#f03535" stroke-width="1.3" fill="none"/>
<path d="M406.1 226.5l7.0 7.0M406.1 233.5l7.0 -7.0" stroke="#f03535" stroke-width="1.3" fill="none"/>
<path d="M411.1 223.0l7.0 7.0M411.1 230.0l7.0 -7.0" stroke="#f03535" stroke-width="1.3" fill="none"/>
<path d="M418.0 217.5l7.0 7.0M418.0 224.5l7.0 -7.0" stroke="#f03535" stroke-width="1.3" fill="none"/>
<path d="M425.6 209.5l7.0 7.0M425.6 216.5l7.0 -7.0" stroke="#f03535" stroke-width="1.3" fill="none"/>
<path d="M430.2 205.5l7.0 7.0M430.2 212.5l7.0 -7.0" stroke="#f03535" stroke-width="1.3" fill="none"/>
<path d="M450.2 200.4l7.0 7.0M450.2 207.4l7.0 -7.0" stroke="#f03535" stroke-width="1.3" fill="none"/>
<path d="M468.8 188.5l7.0 7.0M468.8 195.5l7.0 -7.0" stroke="#f03535" stroke-width="1.3" fill="none"/>
<path d="M488.0 176.9l7.0 7.0M488.0 183.9l7.0 -7.0" stroke="#f03535" stroke-width="1.3" fill="none"/>
<path d="M517.5 161.7l7.0 7.0M517.5 168.7l7.0 -7.0" stroke="#f03535" stroke-width="1.3" fill="none"/>
<path d="M546.5 157.8l7.0 7.0M546.5 164.8l7.0 -7.0" stroke="#f03535" stroke-width="1.3" fill="none"/>
<path d="M576.5 157.8l7.0 7.0M576.5 164.8l7.0 -7.0" stroke="#f03535" stroke-width="1.3" fill="none"/>
<path d="M605.5 157.2l7.0 7.0M605.5 164.2l7.0 -7.0" stroke="#f03535" stroke-width="1.3" fill="none"/>
<path d="M630.2 157.8l7.0 7.0M630.2 164.8l7.0 -7.0" stroke="#f03535" stroke-width="1.3" fill="none"/>
</g>
<g id="s-MH23">
<path d="M375.0 235.5 C378.2 235.4 390.2 235.2 394.3 235.0 C398.4 234.8 397.6 234.8 399.3 234.5 C401.0 234.2 402.6 233.9 404.3 233.5 C406.0 233.1 407.9 232.7 409.6 232.0 C411.3 231.3 412.6 230.7 414.6 229.5 C416.6 228.3 419.1 226.8 421.5 225.0 C423.9 223.2 427.1 220.7 429.1 219.0 C431.1 217.3 429.6 216.2 433.7 215.0 C437.8 213.8 447.3 212.9 453.7 211.5 C460.1 210.1 466.0 209.2 472.3 206.5 C478.6 203.8 483.4 199.1 491.5 195.0 C499.6 190.9 511.2 185.4 521.0 182.0 C530.8 178.6 540.2 175.7 550.0 174.3 C559.8 173.0 570.2 174.2 580.0 173.9 C589.8 173.6 600.0 173.1 609.0 172.6 C618.0 172.1 629.6 171.3 633.7 171.1" fill="none" stroke="#cccc22" stroke-width="1.55" stroke-linejoin="round"/>
<path d="M404.3 232.7V234.3M401.3 232.7h6M401.3 234.3h6M409.6 231.0V233.0M406.6 231.0h6M406.6 233.0h6M414.6 228.3V230.7M411.6 228.3h6M411.6 230.7h6M421.5 223.5V226.5M418.5 223.5h6M418.5 226.5h6M429.1 217.5V220.5M426.1 217.5h6M426.1 220.5h6M433.7 213.0V217.0M430.7 213.0h6M430.7 217.0h6M453.7 209.5V213.5M450.7 209.5h6M450.7 213.5h6M472.3 204.0V209.0M469.3 204.0h6M469.3 209.0h6M491.5 192.0V198.0M488.5 192.0h6M488.5 198.0h6M521.0 179.0V185.0M518.0 179.0h6M518.0 185.0h6M550.0 171.3V177.3M547.0 171.3h6M547.0 177.3h6M580.0 170.9V176.9M577.0 170.9h6M577.0 176.9h6M609.0 170.1V175.1M606.0 170.1h6M606.0 175.1h6M633.7 168.6V173.6M630.7 168.6h6M630.7 173.6h6" stroke="#111" stroke-width="1.1" fill="none"/>
<path d="M375.0 231.5l3.9 7.4h-7.8z" fill="#cccc22"/>
<path d="M394.3 231.0l3.9 7.4h-7.8z" fill="#cccc22"/>
<path d="M399.3 230.5l3.9 7.4h-7.8z" fill="#cccc22"/>
<path d="M404.3 229.5l3.9 7.4h-7.8z" fill="#cccc22"/>
<path d="M409.6 228.0l3.9 7.4h-7.8z" fill="#cccc22"/>
<path d="M414.6 225.5l3.9 7.4h-7.8z" fill="#cccc22"/>
<path d="M421.5 221.0l3.9 7.4h-7.8z" fill="#cccc22"/>
<path d="M429.1 215.0l3.9 7.4h-7.8z" fill="#cccc22"/>
<path d="M433.7 211.0l3.9 7.4h-7.8z" fill="#cccc22"/>
<path d="M453.7 207.5l3.9 7.4h-7.8z" fill="#cccc22"/>
<path d="M472.3 202.5l3.9 7.4h-7.8z" fill="#cccc22"/>
<path d="M491.5 191.0l3.9 7.4h-7.8z" fill="#cccc22"/>
<path d="M521.0 178.0l3.9 7.4h-7.8z" fill="#cccc22"/>
<path d="M550.0 170.3l3.9 7.4h-7.8z" fill="#cccc22"/>
<path d="M580.0 169.9l3.9 7.4h-7.8z" fill="#cccc22"/>
<path d="M609.0 168.6l3.9 7.4h-7.8z" fill="#cccc22"/>
<path d="M633.7 167.1l3.9 7.4h-7.8z" fill="#cccc22"/>
</g>
<g id="s-M715">
<path d="M375.0 235.5 C378.2 235.5 390.2 235.4 394.3 235.3 C398.4 235.2 397.6 235.2 399.3 235.0 C401.0 234.8 402.6 234.6 404.3 234.3 C406.0 234.0 407.9 233.6 409.6 233.0 C411.3 232.4 412.6 231.9 414.6 231.0 C416.6 230.1 419.1 229.1 421.5 227.8 C423.9 226.5 427.1 224.6 429.1 223.3 C431.1 222.0 429.6 220.9 433.7 219.8 C437.8 218.8 447.3 218.3 453.7 217.0 C460.1 215.7 466.0 214.2 472.3 212.2 C478.6 210.2 483.4 207.7 491.5 205.0 C499.6 202.3 511.2 198.2 521.0 196.1 C530.8 194.0 540.2 193.2 550.0 192.2 C559.8 191.2 570.2 190.4 580.0 190.2 C589.8 189.9 600.0 190.7 609.0 190.7 C618.0 190.7 629.6 190.3 633.7 190.2" fill="none" stroke="#66ee66" stroke-width="1.55" stroke-linejoin="round"/>
<path d="M409.6 232.2V233.8M406.6 232.2h6M406.6 233.8h6M414.6 230.0V232.0M411.6 230.0h6M411.6 232.0h6M421.5 226.8V228.8M418.5 226.8h6M418.5 228.8h6M429.1 222.1V224.5M426.1 222.1h6M426.1 224.5h6M433.7 218.3V221.3M430.7 218.3h6M430.7 221.3h6M453.7 215.5V218.5M450.7 215.5h6M450.7 218.5h6M472.3 210.2V214.2M469.3 210.2h6M469.3 214.2h6M491.5 203.0V207.0M488.5 203.0h6M488.5 207.0h6M521.0 194.1V198.1M518.0 194.1h6M518.0 198.1h6M550.0 190.2V194.2M547.0 190.2h6M547.0 194.2h6M580.0 188.2V192.2M577.0 188.2h6M577.0 192.2h6M609.0 188.7V192.7M606.0 188.7h6M606.0 192.7h6M633.7 188.2V192.2M630.7 188.2h6M630.7 192.2h6" stroke="#111" stroke-width="1.1" fill="none"/>
<rect x="371.4" y="231.9" width="7.1" height="7.1" fill="#66ee66"/>
<rect x="390.8" y="231.8" width="7.1" height="7.1" fill="#66ee66"/>
<rect x="395.8" y="231.4" width="7.1" height="7.1" fill="#66ee66"/>
<rect x="400.8" y="230.8" width="7.1" height="7.1" fill="#66ee66"/>
<rect x="406.1" y="229.4" width="7.1" height="7.1" fill="#66ee66"/>
<rect x="411.1" y="227.4" width="7.1" height="7.1" fill="#66ee66"/>
<rect x="417.9" y="224.2" width="7.1" height="7.1" fill="#66ee66"/>
<rect x="425.6" y="219.8" width="7.1" height="7.1" fill="#66ee66"/>
<rect x="430.1" y="216.2" width="7.1" height="7.1" fill="#66ee66"/>
<rect x="450.1" y="213.4" width="7.1" height="7.1" fill="#66ee66"/>
<rect x="468.8" y="208.6" width="7.1" height="7.1" fill="#66ee66"/>
<rect x="487.9" y="201.4" width="7.1" height="7.1" fill="#66ee66"/>
<rect x="517.5" y="192.5" width="7.1" height="7.1" fill="#66ee66"/>
<rect x="546.5" y="188.6" width="7.1" height="7.1" fill="#66ee66"/>
<rect x="576.5" y="186.6" width="7.1" height="7.1" fill="#66ee66"/>
<rect x="605.5" y="187.1" width="7.1" height="7.1" fill="#66ee66"/>
<rect x="630.2" y="186.6" width="7.1" height="7.1" fill="#66ee66"/>
</g>
<g id="s-AAC">
<path d="M375.0 235.5 C378.2 235.5 390.2 235.5 394.3 235.5 C398.4 235.5 397.6 235.4 399.3 235.3 C401.0 235.2 402.6 235.2 404.3 235.0 C406.0 234.8 407.9 234.7 409.6 234.3 C411.3 233.9 412.6 233.5 414.6 232.8 C416.6 232.2 419.1 231.2 421.5 230.4 C423.9 229.6 427.1 228.6 429.1 227.8 C431.1 227.1 429.9 226.7 433.7 225.9 C437.5 225.1 445.9 223.6 451.8 222.8 C457.7 222.0 463.1 222.1 469.0 220.9 C474.9 219.7 478.8 217.7 487.0 215.4 C495.2 213.2 508.4 209.6 518.5 207.4 C528.6 205.2 537.7 203.2 547.4 202.2 C557.1 201.2 567.3 202.0 576.5 201.5 C585.7 201.0 593.7 199.7 602.6 199.3 C611.5 198.9 625.3 199.0 629.8 198.9" fill="none" stroke="#0a0a0a" stroke-width="1.55" stroke-linejoin="round"/>
<path d="M433.7 225.1V226.7M430.7 225.1h6M430.7 226.7h6M451.8 221.8V223.8M448.8 221.8h6M448.8 223.8h6M469.0 219.9V221.9M466.0 219.9h6M466.0 221.9h6M487.0 214.4V216.4M484.0 214.4h6M484.0 216.4h6M518.5 206.2V208.6M515.5 206.2h6M515.5 208.6h6M547.4 200.0V204.4M544.4 200.0h6M544.4 204.4h6M576.5 199.7V203.3M573.5 199.7h6M573.5 203.3h6M602.6 197.1V201.5M599.6 197.1h6M599.6 201.5h6M629.8 196.3V201.5M626.8 196.3h6M626.8 201.5h6" stroke="#111" stroke-width="1.1" fill="none"/>
<path d="M375.0 231.8l3.6 3.8l-3.6 3.8l-3.6 -3.8z" fill="#0a0a0a"/>
<path d="M394.3 231.8l3.6 3.8l-3.6 3.8l-3.6 -3.8z" fill="#0a0a0a"/>
<path d="M399.3 231.6l3.6 3.8l-3.6 3.8l-3.6 -3.8z" fill="#0a0a0a"/>
<path d="M404.3 231.2l3.6 3.8l-3.6 3.8l-3.6 -3.8z" fill="#0a0a0a"/>
<path d="M409.6 230.6l3.6 3.8l-3.6 3.8l-3.6 -3.8z" fill="#0a0a0a"/>
<path d="M414.6 229.1l3.6 3.8l-3.6 3.8l-3.6 -3.8z" fill="#0a0a0a"/>
<path d="M421.5 226.7l3.6 3.8l-3.6 3.8l-3.6 -3.8z" fill="#0a0a0a"/>
<path d="M429.1 224.1l3.6 3.8l-3.6 3.8l-3.6 -3.8z" fill="#0a0a0a"/>
<path d="M433.7 222.2l3.6 3.8l-3.6 3.8l-3.6 -3.8z" fill="#0a0a0a"/>
<path d="M451.8 219.1l3.6 3.8l-3.6 3.8l-3.6 -3.8z" fill="#0a0a0a"/>
<path d="M469.0 217.2l3.6 3.8l-3.6 3.8l-3.6 -3.8z" fill="#0a0a0a"/>
<path d="M487.0 211.7l3.6 3.8l-3.6 3.8l-3.6 -3.8z" fill="#0a0a0a"/>
<path d="M518.5 203.7l3.6 3.8l-3.6 3.8l-3.6 -3.8z" fill="#0a0a0a"/>
<path d="M547.4 198.4l3.6 3.8l-3.6 3.8l-3.6 -3.8z" fill="#0a0a0a"/>
<path d="M576.5 197.8l3.6 3.8l-3.6 3.8l-3.6 -3.8z" fill="#0a0a0a"/>
<path d="M602.6 195.6l3.6 3.8l-3.6 3.8l-3.6 -3.8z" fill="#0a0a0a"/>
<path d="M629.8 195.2l3.6 3.8l-3.6 3.8l-3.6 -3.8z" fill="#0a0a0a"/>
</g>
<path d="M650.8 46.9H677.2" stroke="#1f3da8" stroke-width="1.35"/>
<rect x="662.1" y="45.8" width="3.9" height="2.2" fill="#182c8c"/>
<text x="684.3" y="51.6" font-size="13.5" fill="#111">B184</text>
<path d="M650.8 70.7H677.2" stroke="#a9a9a9" stroke-width="1.35"/>
<path d="M660.9 70.7h6.2M664.0 67.6v6.2" stroke="#a9a9a9" stroke-width="1" fill="none"/>
<text x="684.3" y="75.4" font-size="13.5" fill="#111">B130</text>
<path d="M650.8 94.5H677.2" stroke="#63eef0" stroke-width="1.35"/>
<circle cx="664.0" cy="94.5" r="3.43" fill="#63eef0"/>
<text x="684.3" y="99.2" font-size="13.5" fill="#111">D5</text>
<path d="M650.8 118.2H677.2" stroke="#ee22ee" stroke-width="1.35"/>
<path d="M661.1 115.3l5.8 5.8M661.1 121.1l5.8 -5.8M664.0 114.8v6.8" stroke="#ee22ee" stroke-width="1.2" fill="none"/>
<text x="684.3" y="122.9" font-size="13.5" fill="#111">F83</text>
<path d="M650.8 142.0H677.2" stroke="#f03535" stroke-width="1.35"/>
<path d="M660.9 138.9l6.2 6.2M660.9 145.1l6.2 -6.2" stroke="#f03535" stroke-width="1.3" fill="none"/>
<text x="684.3" y="146.7" font-size="13.5" fill="#111">MH34</text>
<path d="M650.8 165.8H677.2" stroke="#cccc22" stroke-width="1.35"/>
<path d="M664.0 162.3l3.4 6.5h-6.9z" fill="#cccc22"/>
<text x="684.3" y="170.5" font-size="13.5" fill="#111">MH23</text>
<path d="M650.8 189.6H677.2" stroke="#66ee66" stroke-width="1.35"/>
<rect x="660.9" y="186.5" width="6.2" height="6.2" fill="#66ee66"/>
<text x="684.3" y="194.3" font-size="13.5" fill="#111">M715</text>
<path d="M650.8 213.4H677.2" stroke="#0a0a0a" stroke-width="1.35"/>
<path d="M664.0 210.0l3.2 3.3l-3.2 3.3l-3.2 -3.3z" fill="#0a0a0a"/>
<text x="684.3" y="218.1" font-size="13.5" fill="#111">AAC</text>
</g>
<g id="panel-c">
<text x="286.5" y="315.8" font-size="21.5" font-weight="bold" fill="#111">c</text>
<path d="M375 315.3V463.1H587" fill="none" stroke="#2a2a2a" stroke-width="1.25"/>
<text x="368" y="468.7" font-size="15.8" text-anchor="end" fill="#111">0</text>
<text x="368" y="439.2" font-size="15.8" text-anchor="end" fill="#111">1000</text>
<text x="368" y="409.6" font-size="15.8" text-anchor="end" fill="#111">2000</text>
<text x="368" y="380.1" font-size="15.8" text-anchor="end" fill="#111">3000</text>
<text x="368" y="350.5" font-size="15.8" text-anchor="end" fill="#111">4000</text>
<text x="368" y="321.0" font-size="15.8" text-anchor="end" fill="#111">5000</text>
<path d="M375 433.6h4.5M375 404.0h4.5M375 374.5h4.5M375 344.9h4.5M375 315.4h4.5" stroke="#2a2a2a" stroke-width="1.25" fill="none"/>
<text transform="translate(300 389) rotate(-90)" font-size="16" text-anchor="middle" fill="#111">α-Amylase yield</text>
<text transform="translate(318 390.5) rotate(-90)" font-size="16" text-anchor="middle" fill="#111">(U g-DCW<tspan font-size="10" dy="-6.5">−1</tspan><tspan dy="6.5">)</tspan></text>
<rect x="382.9" y="440.1" width="10.6" height="4.4" fill="#c0504d"/>
<rect x="382.9" y="444.0" width="10.6" height="18.4" fill="#4b80be"/>
<path d="M389.0 443.0V445.0M386.0 445.0h6M386.0 439.5h6M386.5 441.3h5" stroke="#111" stroke-width="1.1" fill="none"/>
<text transform="translate(396.6 477.3) rotate(-45)" font-size="15.8" text-anchor="end" fill="#111">AAC</text>
<rect x="409.4" y="432.1" width="10.6" height="4.7" fill="#c0504d"/>
<rect x="409.4" y="436.3" width="10.6" height="26.1" fill="#4b80be"/>
<path d="M415.5 434.3V438.3M412.5 438.3h6M412.5 431.5h6M413.0 433.3h5" stroke="#111" stroke-width="1.1" fill="none"/>
<text transform="translate(423.1 477.3) rotate(-45)" font-size="15.8" text-anchor="end" fill="#111">M715</text>
<rect x="435.8" y="416.5" width="10.6" height="6.4" fill="#c0504d"/>
<rect x="435.8" y="422.4" width="10.6" height="40.0" fill="#4b80be"/>
<path d="M441.9 419.9V424.9M438.9 424.9h6M438.9 415.9h6M439.4 417.7h5" stroke="#111" stroke-width="1.1" fill="none"/>
<text transform="translate(449.5 477.3) rotate(-45)" font-size="15.8" text-anchor="end" fill="#111">MH23</text>
<rect x="462.3" y="410.9" width="10.6" height="7.5" fill="#c0504d"/>
<rect x="462.3" y="417.9" width="10.6" height="44.5" fill="#4b80be"/>
<path d="M468.4 410.4V425.9M465.4 425.9h6M465.4 410.3h6M465.9 412.1h5" stroke="#111" stroke-width="1.1" fill="none"/>
<text transform="translate(476.0 477.3) rotate(-45)" font-size="15.8" text-anchor="end" fill="#111">MH34</text>
<rect x="488.7" y="403.3" width="10.6" height="6.7" fill="#c0504d"/>
<rect x="488.7" y="409.5" width="10.6" height="52.9" fill="#4b80be"/>
<path d="M494.8 402.8V416.5M491.8 416.5h6M491.8 402.7h6M492.3 404.5h5" stroke="#111" stroke-width="1.1" fill="none"/>
<text transform="translate(502.4 477.3) rotate(-45)" font-size="15.8" text-anchor="end" fill="#111">F83</text>
<rect x="515.2" y="397.0" width="10.6" height="6.8" fill="#c0504d"/>
<rect x="515.2" y="403.3" width="10.6" height="59.1" fill="#4b80be"/>
<path d="M521.3 398.3V408.3M518.3 408.3h6M518.3 396.4h6M518.8 398.2h5" stroke="#111" stroke-width="1.1" fill="none"/>
<text transform="translate(528.9 477.3) rotate(-45)" font-size="15.8" text-anchor="end" fill="#111">D5</text>
<rect x="541.6" y="386.6" width="10.6" height="9.5" fill="#c0504d"/>
<rect x="541.6" y="395.6" width="10.6" height="66.8" fill="#4b80be"/>
<path d="M547.7 387.1V404.1M544.7 404.1h6M544.7 386.0h6M545.2 387.8h5" stroke="#111" stroke-width="1.1" fill="none"/>
<text transform="translate(555.3 477.3) rotate(-45)" font-size="15.8" text-anchor="end" fill="#111">B130</text>
<rect x="568.1" y="344.3" width="10.6" height="11.7" fill="#c0504d"/>
<rect x="568.1" y="355.5" width="10.6" height="106.9" fill="#4b80be"/>
<path d="M574.2 345.0V366.0M571.2 366.0h6M571.2 343.7h6M571.7 345.5h5" stroke="#111" stroke-width="1.1" fill="none"/>
<text transform="translate(581.8 477.3) rotate(-45)" font-size="15.8" text-anchor="end" fill="#111">B184</text>
<rect x="588.9" y="320.9" width="7.4" height="7.2" fill="#c0504d"/>
<rect x="588.9" y="343.1" width="7.4" height="7.2" fill="#4b80be"/>
<text x="602.2" y="329.8" font-size="13.5" fill="#111">Intracellular</text>
<text x="602.2" y="352" font-size="13.5" fill="#111">Supernatant</text>
</g>
<g id="watermark">
<g fill="#ffffff" fill-opacity="0.93" stroke="#c4c8d0" stroke-width="0.7">
<ellipse cx="462" cy="469.5" rx="9.7" ry="9.3"/>
<ellipse cx="471.7" cy="476.7" rx="7.7" ry="6.6"/>
</g>
<circle cx="467.8" cy="472.8" r="1" fill="#333"/><circle cx="471.9" cy="476" r="1.1" fill="#aaa"/><circle cx="459" cy="465.6" r="0.7" fill="#c8c8c8"/><circle cx="464.6" cy="465.2" r="0.7" fill="#c8c8c8"/>
<text class="wm-cjk" x="486.6" y="482.6" font-size="17.4" fill="#3c3c3c" fill-opacity="0.82" textLength="210.5" lengthAdjust="spacing">生物催化剂设计与改造服务</text>
<text class="wm-cjk" x="487.5" y="483.5" font-size="17.4" fill="#ffffff" fill-opacity="0.92" textLength="210.5" lengthAdjust="spacing">生物催化剂设计与改造服务</text>
<text class="wm-logo" x="515.2" y="492.5" font-size="22.2" font-weight="bold" fill="#f5822a" stroke="#f5822a" stroke-width="0.5" textLength="135" lengthAdjust="spacingAndGlyphs">cn-ferment</text>
<text class="wm-logo" x="652.3" y="492.5" font-size="19.6" font-weight="bold" fill="#686868" stroke="#686868" stroke-width="0.4" textLength="54.8" lengthAdjust="spacingAndGlyphs">.COM</text>
</g>
</svg>
</body>
</html>
